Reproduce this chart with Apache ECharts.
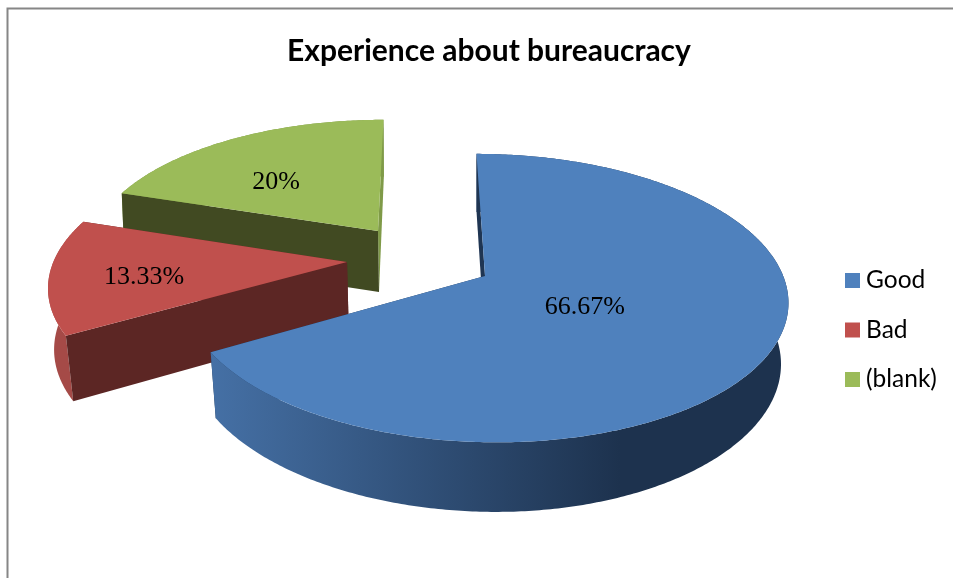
<!DOCTYPE html>
<html>
<head>
<meta charset="utf-8">
<style>html,body{margin:0;padding:0;background:#fff}#c{width:953px;height:578px}</style>
<script src="https://cdn.jsdelivr.net/npm/echarts@6/dist/echarts.min.js"></script>
</head>
<body>
<div id="c"></div>
<script>
const titleText = 'Experience about bureaucracy';
const categories = ['Good', 'Bad', '(blank)'];
const shares = [66.67, 13.33, 20];
const labels = ['66.67%', '13.33%', '20%'];
const topColors = ['#4F81BD', '#C0504D', '#9BBB59'];

const total = shares.reduce((a, b) => a + b, 0);

// perspective view of the pie's top plane (disk radius = 1)
const view = { cx: 421, cy: 260, rx: 293, ry: 136, k: 0.1505 };
// per-slice styling: explosion offset and label spot in disk units, wall colours
const sliceLook = [
  { offset: [0.2147, 0.1156], label: [0.317, 0.213], startFace: '#1F3552', endFace: '#1F3552',
    wall: new echarts.graphic.LinearGradient(212, 0, 620, 0,
      [{ offset: 0, color: '#4570A5' }, { offset: 1, color: '#1D324E' }], true) },
  { offset: [-0.252, 0.0147], label: [-0.676, 0.108], startFace: '#5C2624', endFace: '#5C2624', wall: '#A54A47' },
  { offset: [-0.1516, -0.2203], label: [-0.39, -0.407], startFace: '#414A22', endFace: '#7F9A48', wall: '#7F9A48' }
];

function project(x, y) {
  const w = 1 - view.k * y;
  return [view.cx + view.rx * x / w, view.cy + view.ry * y / w];
}
// where a top-plane screen point lands on the underside of the pie
function drop(p) {
  const lean = Math.max(0.004, 0.007 + (p[1] - 193) * 0.000075) * (p[0] > 480 ? 1.6 : 1);
  return [p[0] - (p[0] - 480) * lean, p[1] + 58 + (p[1] - 153) * 0.04];
}

function renderSlice(index, api) {
  const value = api.value(0);
  let before = 0;
  for (let i = 0; i < index; i++) before += shares[i];
  const a0 = before / total * Math.PI * 2;
  const a1 = (before + value) / total * Math.PI * 2;
  const look = sliceLook[index];
  const ox = look.offset[0], oy = look.offset[1];
  const apex = project(ox, oy);
  const rim = [];
  const steps = Math.max(8, Math.round((a1 - a0) * 90));
  for (let i = 0; i <= steps; i++) {
    const a = a0 + (a1 - a0) * i / steps;
    rim.push(project(ox + Math.sin(a), oy - Math.cos(a)));
  }
  const first = rim[0], last = rim[rim.length - 1];
  const face = (pts, fill) => ({ type: 'polygon', silent: true, shape: { points: pts }, style: { fill: fill } });
  const children = [
    face([last, apex, drop(apex), drop(last)], look.endFace),
    face(rim.concat(rim.map(drop).reverse()), look.wall),
    face([first, apex, drop(apex), drop(first)], look.startFace),
    face([apex].concat(rim), topColors[index])
  ];
  const lp = project(ox + look.label[0], oy + look.label[1]);
  children.push({
    type: 'text', silent: true, x: lp[0], y: lp[1],
    style: { text: labels[index], fill: '#000', font: '26px "Liberation Serif"', align: 'center', verticalAlign: 'middle' }
  });
  return { type: 'group', children: children };
}

const series = categories.map((name, i) => ({
  type: 'custom',
  name: name,
  coordinateSystem: 'none',
  z: 10 - i,
  itemStyle: { color: topColors[i] },
  data: [[shares[i]]],
  renderItem: (params, api) => renderSlice(i, api)
}));

const chart = echarts.init(document.getElementById('c'), null, { renderer: 'canvas' });
chart.setOption({
  animation: false,
  backgroundColor: '#fff',
  title: {
    text: titleText, left: 282, top: 31,
    textStyle: { fontFamily: 'Lato', fontWeight: 'bold', fontSize: 30, color: '#000' }
  },
  legend: {
    data: categories, orient: 'vertical', left: 845, top: 268, padding: 0, icon: 'rect',
    itemWidth: 15, itemHeight: 15, itemGap: 24.5, selectedMode: false,
    textStyle: { fontFamily: 'Lato', fontSize: 24.5, color: '#000', padding: [0, 0, 0, 1] }
  },
  graphic: [{
    type: 'rect', silent: true, z: 0,
    shape: { x: 7.5, y: 8.5, width: 1200, height: 1200 },
    style: { fill: 'none', stroke: '#868686', lineWidth: 2 }
  }],
  series: series
});
</script>
</body>
</html>
